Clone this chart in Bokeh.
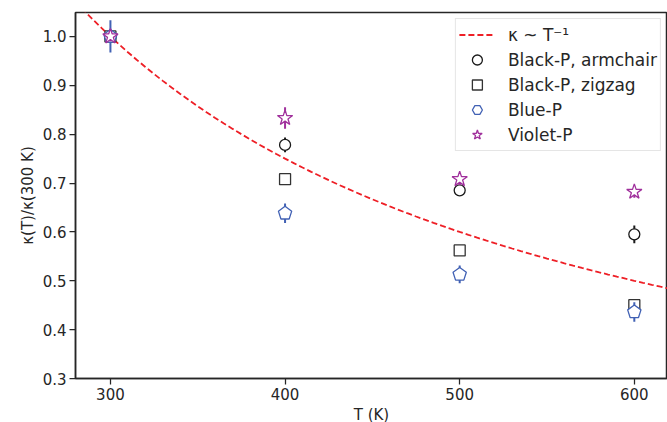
import math
from bokeh.plotting import figure
from bokeh.models import (ColumnDataSource, Legend, LegendItem, Range1d, FixedTicker,
                          CustomJSTickFormatter)
from bokeh.embed import file_html
from bokeh.resources import INLINE

# ---- data ----
T = [300, 400, 500, 600]
armchair = [1.0, 0.778, 0.685, 0.595]
armchair_err = [0.0, 0.015, 0.008, 0.018]
zigzag = [1.0, 0.708, 0.562, 0.450]
zigzag_err = [0.0, 0.006, 0.006, 0.010]
blue = [1.0, 0.638, 0.513, 0.436]
blue_err = [0.033, 0.020, 0.018, 0.020]
violet = [1.0, 0.833, 0.708, 0.682]
violet_err = [0.010, 0.022, 0.012, 0.012]
x_ticks = [300, 400, 500, 600]
y_ticks = [0.3, 0.4, 0.5, 0.6, 0.7, 0.8, 0.9, 1.0]
T_fit = list(range(280, 625, 5))
kappa_fit = [300.0 / t for t in T_fit]

X0, X1 = 280, 619
Y0, Y1 = 0.3, 1.049
FW, FH = 592, 366

TXT = "#262626"
BLACK = "#1a1a1a"
GREY = "#333333"
BLUE = "#4161b4"
VIOLET = "#a0309c"
RED = "#ee1f26"
NAN = float("nan")

p = figure(frame_width=FW, frame_height=FH, output_backend="svg", toolbar_location=None,
           x_range=Range1d(X0, X1), y_range=Range1d(Y0, Y1),
           min_border_left=75, min_border_top=12, min_border_right=0, min_border_bottom=44)
p.background_fill_color = "white"
p.border_fill_color = "white"
p.xgrid.visible = False
p.ygrid.visible = False
p.outline_line_color = TXT
p.outline_line_width = 1.5
p.outline_line_alpha = 1.0

for ax in (p.xaxis[0], p.yaxis[0]):
    ax.axis_line_color = TXT
    ax.axis_line_width = 1.5
    ax.major_tick_line_color = TXT
    ax.major_tick_line_width = 1.25
    ax.major_tick_out = 6
    ax.major_tick_in = 0
    ax.minor_tick_line_color = None
    ax.major_label_text_font = "DejaVu Sans"
    ax.major_label_text_font_size = "15px"
    ax.major_label_text_color = TXT
    ax.axis_label_text_font = "DejaVu Sans"
    ax.axis_label_text_font_size = "15px"
    ax.axis_label_text_font_style = "normal"
    ax.axis_label_text_color = TXT
    ax.major_label_standoff = 3
    ax.axis_label_standoff = 3

p.xaxis.ticker = FixedTicker(ticks=x_ticks)
p.yaxis.ticker = FixedTicker(ticks=y_ticks)
p.yaxis.formatter = CustomJSTickFormatter(code="return tick.toFixed(1);")
p.xaxis.axis_label = "T (K)"
p.yaxis.axis_label = "κ(T)/κ(300 K)"

# fit line
fit_r = p.line(T_fit, kappa_fit, line_color=RED, line_width=1.8, line_dash="6 3")

def errbars(y, err, color, width=2.0):
    src = ColumnDataSource(dict(x=T, y0=[a - b for a, b in zip(y, err)],
                                y1=[a + b for a, b in zip(y, err)]))
    return p.segment(x0="x", y0="y0", x1="x", y1="y1", source=src,
                     line_color=color, line_width=width)

# Black-P armchair
errbars(armchair, armchair_err, BLACK)
arm_r = p.scatter(T, armchair, marker="circle", size=11, fill_color="white",
                  line_color=BLACK, line_width=1.3)
# Black-P zigzag
errbars(zigzag, zigzag_err, GREY)
zig_r = p.scatter(T, zigzag, marker="square", size=11, fill_color="white",
                  line_color=GREY, line_width=1.3)
# Blue-P (pentagons built around the data points)
errbars(blue, blue_err, BLUE)
r_px = 7.0
dxp = (X1 - X0) / FW
dyp = (Y1 - Y0) / FH
xs, ys = [], []
for t, v in zip(T, blue):
    xs.append([t + r_px * dxp * math.cos(math.radians(90 + 72 * k)) for k in range(5)])
    ys.append([v + r_px * dyp * math.sin(math.radians(90 + 72 * k)) for k in range(5)])
p.patches(xs, ys, fill_color="white", line_color=BLUE, line_width=1.3)
blue_leg = p.scatter(x=[T[0]], y=[NAN], marker="hex", angle=math.pi / 2, size=11,
                     fill_color="white", line_color=BLUE, line_width=1.3)
# Violet-P
errbars(violet, violet_err, VIOLET)
vio_r = p.scatter(T, violet, marker="star", size=16, fill_color="white",
                  line_color=VIOLET, line_width=1.3)

legend = Legend(items=[
    LegendItem(label="κ ~ T⁻¹", renderers=[fit_r]),
    LegendItem(label="Black-P, armchair", renderers=[arm_r]),
    LegendItem(label="Black-P, zigzag", renderers=[zig_r]),
    LegendItem(label="Blue-P", renderers=[blue_leg]),
    LegendItem(label="Violet-P", renderers=[vio_r]),
], location="top_right")
legend.label_text_font = "DejaVu Sans"
legend.label_text_font_size = "17px"
legend.label_text_color = TXT
legend.glyph_width = 36
legend.glyph_height = 25
legend.label_height = 25
legend.spacing = 0
legend.padding = 3
legend.margin = 6
legend.label_standoff = 13
legend.border_line_color = "#cccccc"
legend.border_line_width = 1
legend.background_fill_alpha = 0.9
p.add_layout(legend)

open("out.html", "w").write(file_html(p, INLINE))
